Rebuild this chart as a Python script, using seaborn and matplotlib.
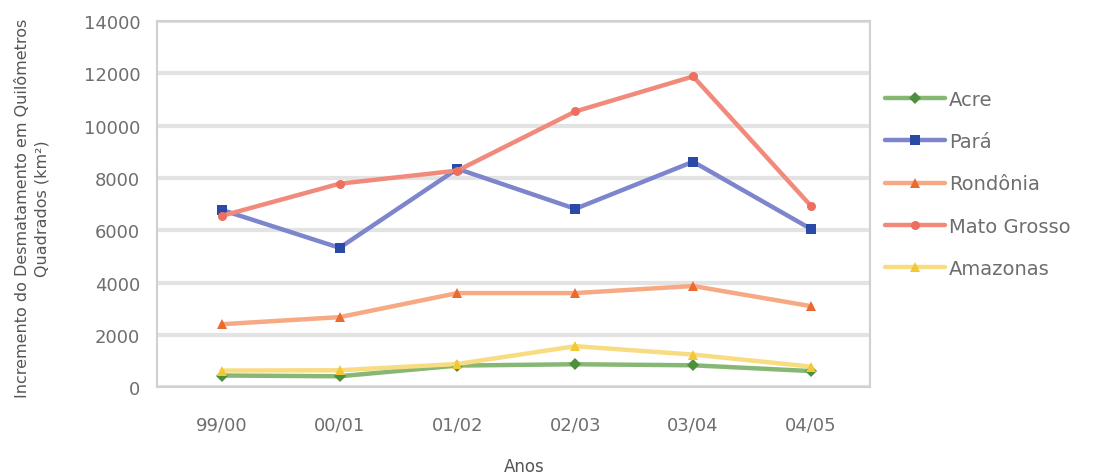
import matplotlib
matplotlib.use("Agg")
import matplotlib.pyplot as plt
import matplotlib.colors as mcolors
import seaborn as sns
import pandas as pd
import numpy as np

anos = ["99/00", "00/01", "01/02", "02/03", "03/04", "04/05"]
estados = ["Acre", "Pará", "Rondônia", "Mato Grosso", "Amazonas"]
acre = [450, 420, 830, 880, 840, 620]
para = [6780, 5330, 8350, 6820, 8620, 6050]
rondonia = [2410, 2680, 3600, 3600, 3870, 3100]
mato_grosso = [6550, 7780, 8280, 10540, 11880, 6930]
amazonas = [640, 650, 890, 1570, 1250, 790]
y_ticks = [0, 2000, 4000, 6000, 8000, 10000, 12000, 14000]

series = [acre, para, rondonia, mato_grosso, amazonas]
rows = []
for est, vals in zip(estados, series):
    for i, (a, v) in enumerate(zip(anos, vals)):
        rows.append({"pos": i, "Ano": a, "Estado": est, "Valor": v})
df = pd.DataFrame(rows)

sns.set_theme(style="white")
plt.rcParams["font.family"] = ["DejaVu Sans"]

palette = {"Acre": "#86b775", "Pará": "#7d85cc", "Rondônia": "#f6a983",
           "Mato Grosso": "#f18a7b", "Amazonas": "#f8dc82"}
marker_colors = {"Acre": "#4e8f3e", "Pará": "#2a4aa8", "Rondônia": "#ea6a30",
                 "Mato Grosso": "#ec6f60", "Amazonas": "#f2c934"}
markers = {"Acre": "D", "Pará": "s", "Rondônia": "^", "Mato Grosso": "o", "Amazonas": "^"}

fig = plt.figure(figsize=(10.97, 4.77), dpi=100)
ax = fig.add_axes([0.143, 0.186, 0.650, 0.768])

sns.lineplot(data=df, x="pos", y="Valor", hue="Estado", hue_order=estados,
             palette=palette, style="Estado", style_order=estados, markers=markers,
             dashes=False, linewidth=3.2, markersize=6.5, markeredgewidth=0,
             ax=ax, legend=True)

color_to_state = {mcolors.to_hex(c): s for s, c in palette.items()}


def recolor(line):
    key = mcolors.to_hex(line.get_color())
    if key in color_to_state:
        mc = marker_colors[color_to_state[key]]
        line.set_markerfacecolor(mc)
        line.set_markeredgecolor(mc)


for line in ax.lines:
    recolor(line)

ax.set_xlim(-0.55, 5.47)
ax.set_ylim(0, 14000)
ax.set_yticks(y_ticks)
ax.set_yticklabels([str(v) for v in y_ticks])
ax.set_xticks(range(len(anos)))
ax.set_xticklabels(anos)
ax.set_xticks(np.arange(-0.5, 5.6, 1), minor=True)
ax.tick_params(axis="x", which="major", length=0, pad=20, labelsize=13, labelcolor="#6e6e6e")
ax.tick_params(axis="x", which="minor", length=5, color="#cccccc", width=1, direction="out")
ax.tick_params(axis="y", length=0, pad=12, labelsize=13, labelcolor="#6e6e6e")
ax.yaxis.grid(True, color="#e3e3e3", linewidth=3)
ax.set_axisbelow(True)
for s in ax.spines.values():
    s.set_color("#d0d0d0")
    s.set_linewidth(1.5)

ax.set_xlabel("Anos", fontsize=12, color="#555555")
ax.xaxis.set_label_coords(0.515, -0.19)
ax.set_ylabel("Incremento do Desmatamento em Quilômetros\nQuadrados (km²)",
              fontsize=11.5, color="#555555", linespacing=1.4)
ax.yaxis.set_label_coords(-0.15, 0.49)

h, l = ax.get_legend_handles_labels()
for hh in h:
    recolor(hh)
ax.legend(h, l, loc="center left", bbox_to_anchor=(1.021, 0.555), frameon=False,
          fontsize=14, labelspacing=1.2, handlelength=3.1, handletextpad=0.2,
          borderaxespad=0, borderpad=0, labelcolor="#6e6e6e")

fig.savefig("out.png", dpi=100)
